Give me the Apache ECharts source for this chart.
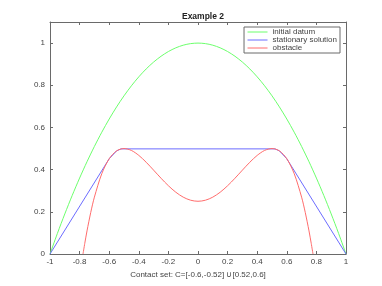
<!DOCTYPE html>
<html><head><meta charset="utf-8">
<script src="https://cdn.jsdelivr.net/npm/echarts@6/dist/echarts.min.js"></script>
<style>html,body{margin:0;padding:0;background:#fff}#c{width:382px;height:286px}</style>
</head><body><div id="c"></div>
<script>
var xTicks = [-1, -0.8, -0.6, -0.4, -0.2, 0, 0.2, 0.4, 0.6, 0.8, 1];
var yTicks = [0, 0.2, 0.4, 0.6, 0.8, 1];

var initX = [-1,-0.95,-0.9,-0.85,-0.8,-0.75,-0.7,-0.65,-0.6,-0.55,-0.5,-0.45,-0.4,-0.35,-0.3,-0.25,-0.2,-0.15,-0.1,-0.05,0,
  0.05,0.1,0.15,0.2,0.25,0.3,0.35,0.4,0.45,0.5,0.55,0.6,0.65,0.7,0.75,0.8,0.85,0.9,0.95,1];
var initY = [0,0.0975,0.19,0.2775,0.36,0.4375,0.51,0.5775,0.64,0.6975,0.75,0.7975,0.84,0.8775,0.91,0.9375,0.96,0.9775,0.99,0.9975,1,
  0.9975,0.99,0.9775,0.96,0.9375,0.91,0.8775,0.84,0.7975,0.75,0.6975,0.64,0.5775,0.51,0.4375,0.36,0.2775,0.19,0.0975,0];

var statX = [-1, -0.6, -0.55, -0.52, 0.52, 0.55, 0.6, 1];
var statY = [0, 0.4516, 0.489, 0.4984, 0.4984, 0.489, 0.4516, 0];

var obsX = [-0.777,-0.765,-0.75,-0.725,-0.7,-0.65,-0.6,-0.55,-0.5,-0.45,-0.4,-0.35,-0.3,-0.25,-0.2,-0.15,-0.1,-0.05,0,
  0.05,0.1,0.15,0.2,0.25,0.3,0.35,0.4,0.45,0.5,0.55,0.6,0.65,0.7,0.725,0.75,0.765,0.777];
var obsY = [0,0.0505,0.1094,0.1961,0.2696,0.381,0.4516,0.489,0.5,0.491,0.4676,0.435,0.3976,0.3594,0.3236,0.293,0.2696,0.255,0.25,
  0.255,0.2696,0.293,0.3236,0.3594,0.3976,0.435,0.4676,0.491,0.5,0.489,0.4516,0.381,0.2696,0.1961,0.1094,0.0505,0];

function pairs(xs, ys){ return xs.map(function(x,i){ return [x, ys[i]]; }); }

var axisCol = '#6a6a6a';
var ff = 'Liberation Sans, Arial, sans-serif';
var txtCol = '#444';
var cG = '#6cff6c', cB = '#6c6cff', cR = '#ff6c6c';
var chart = echarts.init(document.getElementById('c'), null, {renderer:'canvas'});
chart.setOption({
  animation:false,
  backgroundColor:'#fff',
  title:{text:'Example 2', left:198, textAlign:'center', top:7,
    textStyle:{fontSize:8.5, fontWeight:'bold', color:'#222', fontFamily:ff}},
  grid:{left:50, right:36, top:22, bottom:32, show:false},
  legend:{orient:'vertical', right:42, top:27, itemWidth:20, itemHeight:8, itemGap:0,
    padding:[1,3,1,3], backgroundColor:'#fff', borderColor:axisCol, borderWidth:1, borderRadius:0,
    itemStyle:{opacity:0}, lineStyle:{width:1},
    textStyle:{color:txtCol, fontSize:8, fontFamily:ff},
    data:['initial datum','stationary solution','obstacle']},
  xAxis:[{type:'value', min:-1, max:1, interval:0.2, name:'Contact set: C=[-0.6,-0.52] \u222a[0.52,0.6]',
    nameLocation:'middle', nameGap:14, nameTextStyle:{color:txtCol, fontSize:8, fontFamily:ff},
    axisLine:{show:true, onZero:false, lineStyle:{color:axisCol}}, axisTick:{inside:true, length:3, lineStyle:{color:axisCol}, customValues:xTicks},
    axisLabel:{margin:4, customValues:xTicks, color:txtCol, fontSize:8, fontFamily:ff}, splitLine:{show:false}},
   {type:'value', min:-1, max:1, position:'top', axisLine:{show:true, onZero:false, lineStyle:{color:axisCol}},
    axisTick:{inside:true, length:3, lineStyle:{color:axisCol}, customValues:xTicks}, axisLabel:{show:false}, splitLine:{show:false}}],
  yAxis:[{type:'value', min:0, max:1.1,
    axisLine:{show:true, onZero:false, lineStyle:{color:axisCol}}, axisTick:{inside:true, length:3, lineStyle:{color:axisCol}, customValues:yTicks},
    axisLabel:{margin:5, customValues:yTicks, color:txtCol, fontSize:8, fontFamily:ff}, splitLine:{show:false}},
   {type:'value', min:0, max:1.1, position:'right', axisLine:{show:true, onZero:false, lineStyle:{color:axisCol}},
    axisTick:{inside:true, length:3, lineStyle:{color:axisCol}, customValues:yTicks}, axisLabel:{show:false}, splitLine:{show:false}}],
  series:[
    {name:'initial datum', type:'line', data:pairs(initX, initY), symbol:'none', smooth:0.3, lineStyle:{color:cG, width:1}, itemStyle:{color:cG}},
    {name:'stationary solution', type:'line', data:pairs(statX, statY), symbol:'none', lineStyle:{color:cB, width:1}, itemStyle:{color:cB}},
    {name:'obstacle', type:'line', data:pairs(obsX, obsY), symbol:'none', smooth:0.3, lineStyle:{color:cR, width:1}, itemStyle:{color:cR}}
  ]
});
</script></body></html>
